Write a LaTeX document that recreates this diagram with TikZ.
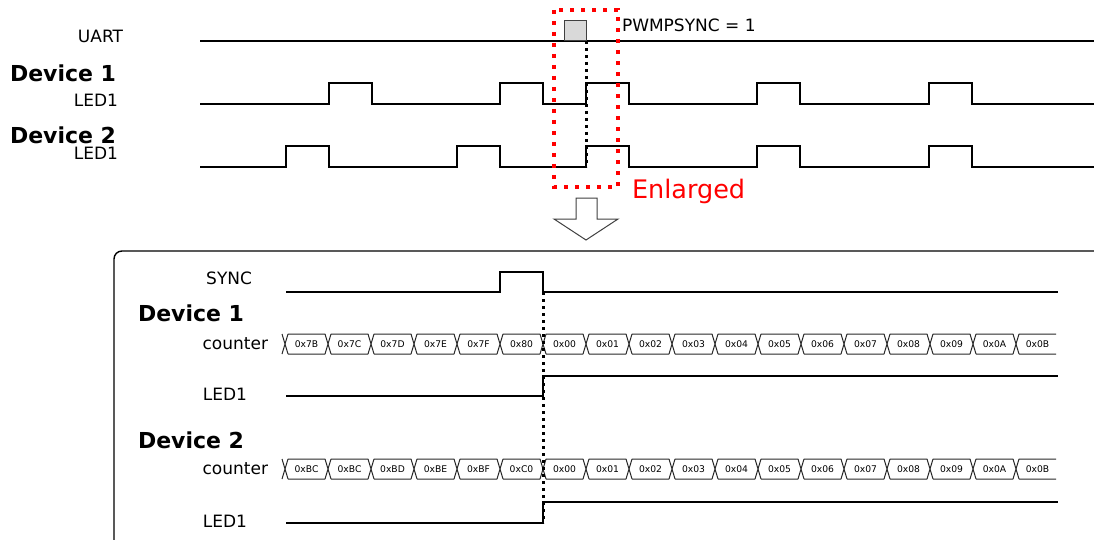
\documentclass[tikz,border=0pt]{standalone}
\usepackage{fontspec}
\setmainfont{DejaVu Sans}
\usepackage{tikz}

\tikzset{
  siglabel/.style={inner sep=0pt,outer sep=0pt,anchor=base east,font=\fontsize{17}{20}\selectfont},
  devlabel/.style={inner sep=0pt,outer sep=0pt,anchor=base west,font=\bfseries\fontsize{22}{26}\selectfont},
  wave/.style={draw=black,line width=2.2pt},
  bus/.style={draw={rgb,255:red,40;green,40;blue,40},line width=1pt},
  busval/.style={inner sep=0pt,outer sep=0pt,font=\fontsize{9.2}{11}\selectfont},
  syncdot/.style={draw=black,line width=3pt,dash pattern=on 3pt off 4pt},
  zoomdot/.style={draw=red,line width=3.6pt,dash pattern=on 3.6pt off 7.4pt},
}

\begin{document}
\begin{tikzpicture}[x=1pt,y=-1pt]
\useasboundingbox (0,0) rectangle (1094,540);
\clip (0,0) rectangle (1094,540);
\fill[white] (0,0) rectangle (1094,540);

% overview
\node[siglabel] (uart) at (123,43) {UART};
\node[devlabel] (devA) at (10,81.5) {Device 1};
\node[siglabel] (ledA) at (118,106.5) {LED1};
\node[devlabel] (devB) at (10,144) {Device 2};
\node[siglabel] (ledB) at (118,159.5) {LED1};

\draw[wave] (200,41) -- (1094,41);
\path[fill={rgb,255:red,217;green,217;blue,217},draw={rgb,255:red,64;green,64;blue,64},line width=1pt] (564,41) rectangle (586,21);
\node[inner sep=0pt,outer sep=0pt,anchor=base west,font=\fontsize{17}{20}\selectfont] (psync) at (622,32) {PWMPSYNC = 1};

\draw[wave] (200,104) \foreach \a in {329,500,586,757,929} { -- (\a,104) -- (\a,83) -- (\a+43,83) -- (\a+43,104) } -- (1094,104);
\draw[wave] (200,167) \foreach \a in {286,457,586,757,929} { -- (\a,167) -- (\a,146) -- (\a+43,146) -- (\a+43,167) } -- (1094,167);
\draw[syncdot] (586,41) -- (586,167);

\draw[zoomdot] (554,10) rectangle (618,187);
\node[inner sep=0pt,outer sep=0pt,anchor=base west,text=red,font=\fontsize{25.5}{30}\selectfont] (enl) at (632,199) {Enlarged};
\path[fill=white,draw={rgb,255:red,64;green,64;blue,64},line width=1pt] (576,198) -- (597,198) -- (597,219) -- (618,219) -- (586,240) -- (554,219) -- (576,219) -- cycle;

% enlarged view
\draw[line width=1.4pt,rounded corners=8pt] (114,548) rectangle (1112,251);

\node[siglabel] (sync) at (252,284) {SYNC};
\node[devlabel] (devC) at (138,321.5) {Device 1};
\node[siglabel] (cntC) at (268,349) {counter};
\node[siglabel] (ledC) at (247,400) {LED1};
\node[devlabel] (devD) at (138,448) {Device 2};
\node[siglabel] (cntD) at (268,474) {counter};
\node[siglabel] (ledD) at (247,527) {LED1};

\draw[wave] (286,292) -- (500,292) -- (500,272) -- (543,272) -- (543,292) -- (1058,292);
\draw[wave] (286,396) -- (543,396) -- (543,376) -- (1058,376);
\draw[wave] (286,523) -- (543,523) -- (543,502) -- (1058,502);

\foreach \v [count=\i from 0] in {0x7B,0x7C,0x7D,0x7E,0x7F,0x80,0x00,0x01,0x02,0x03,0x04,0x05,0x06,0x07,0x08,0x09,0x0A,0x0B} {
  \pgfmathsetmacro\bx{285+43*\i}
  \draw[bus] (\bx-3,334) -- (\bx+3,354) (\bx-3,354) -- (\bx+3,334)
    (\bx+3,334) -- (\bx+40,334) (\bx+3,354) -- (\bx+40,354);
  \node[busval] (c1v\i) at (\bx+21.5,344) {\v};
}
\foreach \v [count=\i from 0] in {0xBC,0xBC,0xBD,0xBE,0xBF,0xC0,0x00,0x01,0x02,0x03,0x04,0x05,0x06,0x07,0x08,0x09,0x0A,0x0B} {
  \pgfmathsetmacro\bx{285+43*\i}
  \draw[bus] (\bx-3,459) -- (\bx+3,479) (\bx-3,479) -- (\bx+3,459)
    (\bx+3,459) -- (\bx+40,459) (\bx+3,479) -- (\bx+40,479);
  \node[busval] (c2v\i) at (\bx+21.5,469) {\v};
}

\draw[syncdot] (543,292) -- (543,523);
\end{tikzpicture}
\end{document}
